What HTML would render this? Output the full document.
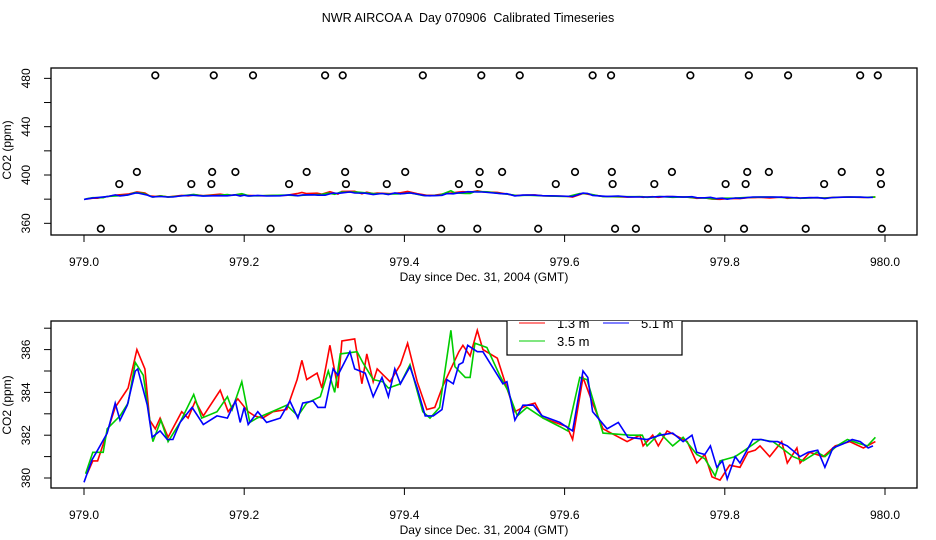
<!DOCTYPE html>
<html><head><meta charset="utf-8">
<style>
html,body{margin:0;padding:0;background:#fff;}
svg{display:block;font-family:"Liberation Sans",sans-serif;}
</style></head>
<body>
<svg id="chart" width="936" height="540" viewBox="0 0 936 540" xmlns="http://www.w3.org/2000/svg">
<text x="468" y="22" font-size="12.5" text-anchor="middle" style="white-space:pre">NWR AIRCOA A  Day 070906  Calibrated Timeseries</text>
<g id="topPanel"></g>
<g id="botPanel"></g>
</svg>
<script>
const xTicks = [979.0, 979.2, 979.4, 979.6, 979.8, 980.0];
const topYTicks = [360, 400, 440, 480];
const topYMinor = [380, 420, 460];
const botYTicks = [380, 382, 384, 386];
const botYMinor = [381, 383, 385, 387];
const circ480Days = [.089,.162,.211,.301,.323,.423,.496,.544,.635,.658,.757,.830,.879,.969,.991];
const circ403Days = [.066,.160,.189,.278,.326,.401,.494,.522,.613,.659,.734,.828,.855,.946,.994];
const circ393Days = [.044,.134,.159,.256,.327,.378,.468,.493,.589,.660,.712,.801,.826,.924,.995];
const circ356Days = [.021,.111,.156,.233,.330,.355,.446,.491,.567,.663,.689,.779,.824,.901,.996];
const circLevels = [482.5, 402.5, 392.5, 355.5];
const blueT = [0,.010,.017,.029,.039,.045,.054,.064,.067,.079,.085,.095,.104,.111,.120,.135,.149,.166,.179,.189,.195,.200,.205,.217,.228,.245,.257,.267,.273,.286,.292,.301,.311,.317,.332,.338,.351,.361,.372,.380,.388,.395,.407,.416,.426,.436,.447,.453,.461,.468,.473,.479,.491,.498,.523,.528,.538,.548,.561,.572,.594,.610,.623,.629,.635,.653,.667,.679,.703,.719,.735,.748,.759,.765,.775,.782,.790,.797,.803,.813,.819,.835,.846,.856,.866,.878,.894,.904,.916,.925,.935,.948,.959,.969,.979,.985];
const blueV = [379.8,380.85,381.3,382.1,383.5,382.7,383.4,385.0,385.1,383.4,381.9,382.2,381.8,381.8,382.6,383.3,382.5,382.9,382.8,383.6,382.6,383.3,382.5,383.1,382.6,382.8,383.6,382.8,383.5,383.6,383.3,383.3,385.1,384.8,385.9,385.1,384.9,383.8,384.7,383.8,385.1,384.4,385.2,384.2,382.9,382.9,383.2,384.6,384.4,385.3,385.4,386.2,385.9,385.9,384.4,384.5,382.7,383.4,383.4,382.9,382.6,382.2,385.0,384.7,383.1,382.3,382.6,381.9,381.8,382.0,382.1,381.7,382.0,381.2,381.1,381.5,380.5,380.8,379.95,381.0,380.7,381.8,381.8,381.7,381.7,381.5,381.0,381.2,381.3,380.5,381.4,381.6,381.8,381.7,381.4,381.5];
const redT = [.004,.011,.017,.026,.039,.055,.066,.076,.082,.089,.095,.105,.122,.130,.139,.149,.170,.180,.192,.205,.213,.223,.236,.253,.266,.272,.278,.291,.297,.307,.317,.322,.338,.347,.353,.361,.366,.382,.395,.404,.416,.428,.438,.448,.468,.473,.482,.491,.498,.516,.528,.538,.553,.563,.573,.603,.610,.623,.635,.648,.678,.694,.698,.710,.717,.728,.753,.765,.775,.784,.794,.806,.819,.829,.838,.844,.856,.871,.878,.890,.894,.906,.923,.938,.956,.973,.988];
const redV = [380.2,380.8,380.8,381.8,383.3,384.2,386.0,385.1,382.7,382.3,382.8,381.9,383.1,382.8,383.6,382.9,384.1,383.1,383.7,383.1,382.9,382.8,383.1,383.2,384.6,385.5,384.6,384.9,384.2,386.2,384.2,386.4,386.5,384.4,385.8,384.5,385.1,384.5,385.3,386.3,384.5,383.2,383.3,384.3,385.9,386.2,385.7,386.9,386.0,385.6,384.2,383.1,383.4,383.5,382.8,382.4,381.8,384.7,383.5,382.3,381.7,382.0,381.5,382.0,381.5,382.2,381.7,380.7,381.1,380.05,379.9,380.6,380.5,381.2,381.3,381.5,381.0,381.7,380.7,381.4,380.7,381.2,381.0,381.5,381.7,381.4,381.7];
const greenT = [.002,.011,.024,.029,.045,.055,.064,.074,.086,.096,.105,.120,.137,.147,.166,.179,.185,.197,.207,.216,.241,.253,.267,.278,.295,.305,.313,.320,.341,.348,.361,.373,.380,.395,.407,.423,.432,.444,.458,.463,.476,.482,.488,.503,.519,.529,.541,.553,.573,.594,.604,.619,.628,.648,.682,.697,.703,.719,.735,.748,.765,.775,.788,.794,.813,.825,.844,.860,.871,.885,.898,.915,.925,.940,.953,.969,.978,.988];
const greenV = [380.2,381.2,381.2,382.3,382.9,383.5,385.4,384.8,381.7,382.7,381.7,382.6,383.9,382.8,383.1,383.8,383.2,384.5,382.6,382.8,383.2,383.4,382.9,383.5,383.8,385.0,384.0,385.8,385.9,385.4,384.6,384.5,384.2,384.4,385.3,383.1,382.8,383.3,386.9,385.2,384.7,384.7,386.3,386.1,384.8,384.1,382.9,383.3,382.8,382.4,382.2,384.7,384.6,382.1,382.0,382.0,381.5,382.1,381.5,381.9,381.1,380.9,380.1,380.8,381.0,381.3,381.8,381.7,381.4,381.0,380.8,381.2,381.0,381.5,381.8,381.6,381.5,381.9];

const NS = "http://www.w3.org/2000/svg";
function mk(parent, tag, attrs){
  const e = document.createElementNS(NS, tag);
  for (const k in attrs) e.setAttribute(k, attrs[k]);
  parent.appendChild(e); return e;
}
const xS = d => 84 + 801 * (d - 979);
const xF = f => xS(979 + f);
const topY = v => 175 - 1.208 * (v - 400);
const botY = v => 478 - 21.4 * (v - 380);

function panel(g, box, yFn, yTicks, yMinor, labY, titleY, ytitleY){
  const r = mk(g,'rect',{x:box[0],y:box[1],width:box[2]-box[0],height:box[3]-box[1],fill:'none',stroke:'#000','stroke-width':1.3});
  
  
  xTicks.forEach(t=>{
    const x=xS(t);
    mk(g,'line',{x1:x,y1:box[3],x2:x,y2:box[3]+7,stroke:'#000'});
    const tx=mk(g,'text',{x:x,y:labY,'font-size':12,'text-anchor':'middle'});
    tx.textContent=t.toFixed(1);
    
    
  });
  yTicks.concat(yMinor).forEach(t=>{
    const y=yFn(t);
    mk(g,'line',{x1:box[0]-7,y1:y,x2:box[0],y2:y,stroke:'#000'});
  });
  yTicks.forEach(t=>{
    const y=yFn(t);
    const tx=mk(g,'text',{x:0,y:0,'font-size':12,'text-anchor':'middle',transform:`translate(${box[0]-21},${y}) rotate(-90)`});
    tx.textContent=String(t);
    
    
  });
  const xt=mk(g,'text',{x:484,y:titleY,'font-size':12,'text-anchor':'middle'});
  xt.textContent='Day since Dec. 31, 2004 (GMT)';
  
  
  const yt=mk(g,'text',{x:0,y:0,'font-size':12,'text-anchor':'middle',transform:`translate(11,${ytitleY}) rotate(-90)`});
  yt.textContent='CO2 (ppm)';
  
  
}
function series(g, T, V, yFn, color, name){
  const pts=T.map((t,i)=>xF(t).toFixed(1)+','+yFn(V[i]).toFixed(1)).join(' ');
  const p=mk(g,'polyline',{points:pts,fill:'none',stroke:color,'stroke-width':1.6});
  
  
}
const topG=document.getElementById('topPanel'), botG=document.getElementById('botPanel');
panel(topG,[51,68,917,235],topY,topYTicks,topYMinor,266,281,150);
panel(botG,[51,321,917,488],botY,botYTicks,botYMinor,519,534,405);

series(topG,redT,redV,topY,'#f00','top-series-1.3m');
series(topG,greenT,greenV,topY,'#0c0','top-series-3.5m');
series(topG,blueT,blueV,topY,'#00f','top-series-5.1m');
[circ480Days,circ403Days,circ393Days,circ356Days].forEach((arr,li)=>{
  arr.forEach(d=>{
    const c=mk(topG,'circle',{cx:xF(d),cy:topY(circLevels[li]),r:3.3,fill:'none',stroke:'#000','stroke-width':1.6});
    
    
  });
});

const defs=mk(botG,'clipPath',{id:'cp'});
mk(defs,'rect',{x:0,y:321,width:936,height:219});
series(botG,redT,redV,botY,'#f00','series-1.3m');
series(botG,greenT,greenV,botY,'#0c0','series-3.5m');
series(botG,blueT,blueV,botY,'#00f','series-5.1m');

const lg=mk(botG,'g',{'clip-path':'url(#cp)'});


mk(lg,'rect',{x:507,y:300,width:175,height:55,fill:'#fff',stroke:'#000','stroke-width':1.2});
[['#f00','1.3 m',519,323],['#00f','5.1 m',603,323],['#0c0','3.5 m',519,341]].forEach(e=>{
  mk(lg,'line',{x1:e[2],y1:e[3],x2:e[2]+26,y2:e[3],stroke:e[0],'stroke-width':1});
  const t=mk(lg,'text',{x:e[2]+38,y:e[3]+5,'font-size':13});
  t.textContent=e[1];
  
  
});
</script>
</body></html>
